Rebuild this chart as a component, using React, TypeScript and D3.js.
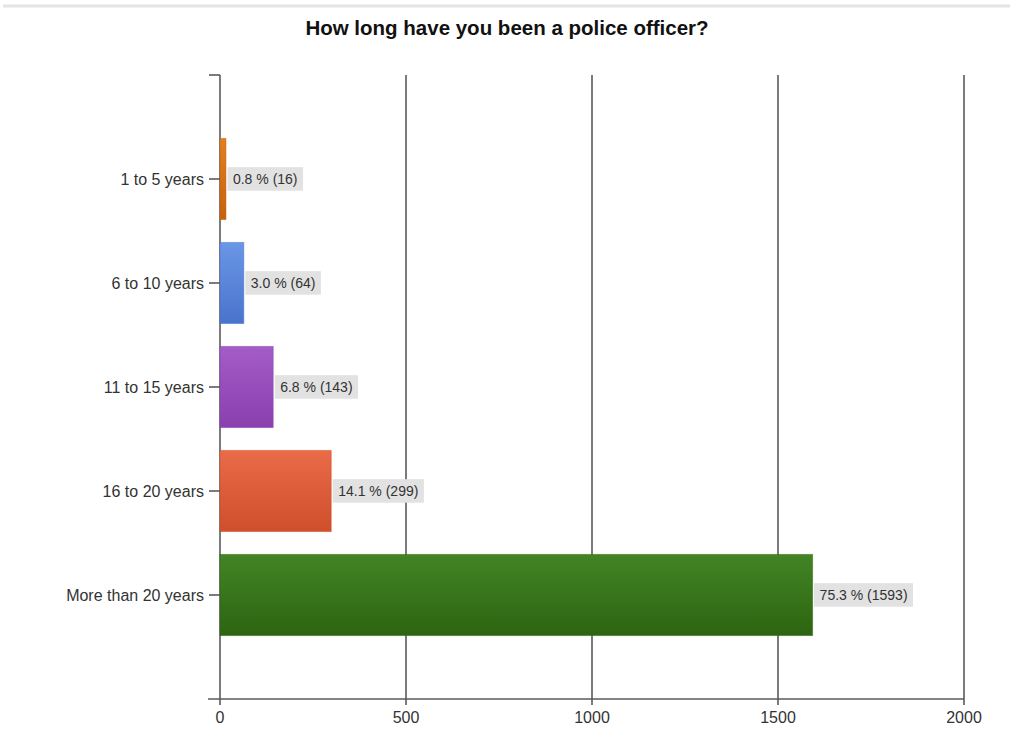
import React from "react";
import * as d3 from "d3";

const title = "How long have you been a police officer?";
const categories = ["1 to 5 years", "6 to 10 years", "11 to 15 years", "16 to 20 years", "More than 20 years"];
const counts = [16, 64, 143, 299, 1593];
const colorsTop = ["#e0801f", "#6a96e6", "#a45cc8", "#ea6b48", "#428525"];
const colorsBottom = ["#c8600c", "#4a74cc", "#8a3fae", "#cf4e2c", "#2d6410"];
const xTicks = [0, 500, 1000, 1500, 2000];

const font = "'Liberation Sans', Arial, sans-serif";

function measure(text: string, size: number): number {
  if (typeof document === "undefined") return text.length * size * 0.55;
  const c = document.createElement("canvas").getContext("2d");
  if (!c) return text.length * size * 0.55;
  c.font = `${size}px ${font}`;
  return c.measureText(text).width;
}

export default function App() {
  const W = 1010, H = 749;
  const x0 = 220, x1 = 964, y0 = 75, y1 = 699;
  const x = d3.scaleLinear().domain([0, 2000]).range([x0, x1]);
  const y = d3.scaleBand<string>().domain(categories).range([y0, y1]).paddingInner(0.22).paddingOuter(0.61);
  const total = d3.sum(counts);
  const gridColor = "#5a5a5a";
  return (
    <svg width={W} height={H} style={{ position: "absolute", left: 0, top: 0, background: "#fff" }}>
      <defs>
        {categories.map((c, i) => (
          <linearGradient key={c} id={`g${i}`} x1="0" y1="0" x2="0" y2="1">
            <stop offset="0" stopColor={colorsTop[i]} />
            <stop offset="1" stopColor={colorsBottom[i]} />
          </linearGradient>
        ))}
      </defs>
      <rect x={0} y={0} width={W} height={H} fill="#fff" />
      <line x1={3} x2={W} y1={6} y2={6} stroke="#e4e4e4" strokeWidth={3} />
      <text x={507} y={35} textAnchor="middle" fontFamily={font} fontWeight="bold" fontSize={20.5} fill="#111">{title}</text>
      {xTicks.slice(1).map(t => (
        <line key={t} x1={x(t)} x2={x(t)} y1={y0} y2={y1} stroke={gridColor} strokeWidth={1.6} />
      ))}
      <line x1={x0} x2={x0} y1={y0} y2={y1} stroke={gridColor} strokeWidth={1.6} />
      <line x1={209} x2={x0} y1={y0} y2={y0} stroke={gridColor} strokeWidth={1.6} />
      <line x1={208} x2={x1} y1={y1} y2={y1} stroke={gridColor} strokeWidth={1.6} />
      {xTicks.map(t => (
        <g key={t}>
          <line x1={x(t)} x2={x(t)} y1={y1} y2={y1 + 6} stroke={gridColor} strokeWidth={1.6} />
          <text x={x(t)} y={723} textAnchor="middle" fontFamily={font} fontSize={16} fill="#333">{t}</text>
        </g>
      ))}
      {categories.map((c, i) => {
        const by = y(c)!;
        const bh = y.bandwidth();
        const cy = by + bh / 2;
        const bx = x(counts[i]);
        const label = `${(counts[i] / total * 100).toFixed(1)} % (${counts[i]})`;
        const lw = measure(label, 14) + 11;
        return (
          <g key={c}>
            <rect x={x0} y={by} width={bx - x0} height={bh} fill={`url(#g${i})`} stroke={colorsBottom[i]} strokeOpacity={0.5} strokeWidth={1} />
            <line x1={209} x2={x0} y1={cy} y2={cy} stroke={gridColor} strokeWidth={1.6} />
            <text x={204} y={cy + 5.5} textAnchor="end" fontFamily={font} fontSize={16} fill="#333">{c}</text>
            <rect x={bx + 1.5} y={cy - 11.8} width={lw} height={23.5} fill="#e2e2e2" />
            <text x={bx + 7} y={cy + 5} fontFamily={font} fontSize={14} fill="#333">{label}</text>
          </g>
        );
      })}
    </svg>
  );
}
